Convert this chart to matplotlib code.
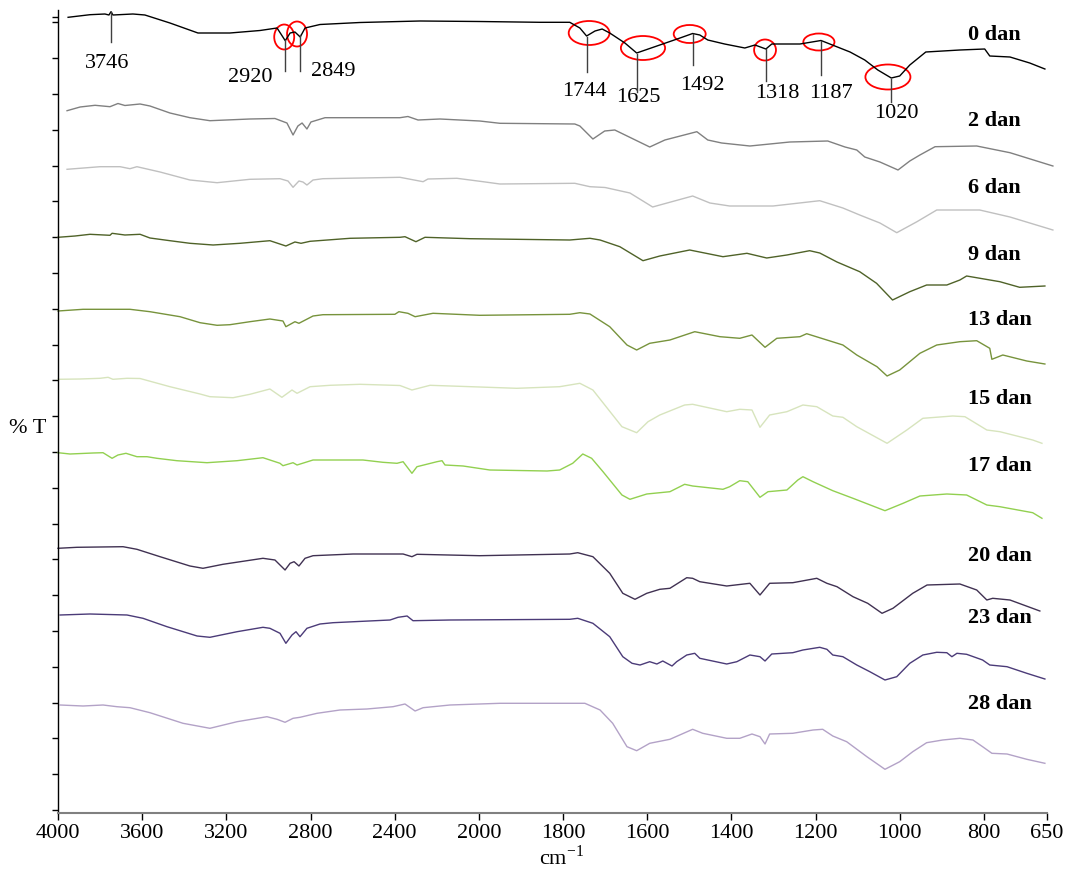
import numpy as np
import matplotlib
matplotlib.use("Agg")
import matplotlib.pyplot as plt
from matplotlib.patches import Ellipse

plt.rcParams['font.family'] = 'serif'
plt.rcParams['font.serif'] = ['Liberation Serif', 'DejaVu Serif']
plt.rcParams['mathtext.fontset'] = 'custom'
plt.rcParams['mathtext.rm'] = 'Liberation Serif'

# sample names and line colours
names = ["0 dan", "2 dan", "6 dan", "9 dan", "13 dan", "15 dan", "17 dan", "20 dan", "23 dan", "28 dan"]
colors = ["#000000", "#808080", "#c0c0c0", "#4f6228", "#77933c", "#d7e4bd", "#92d050", "#403152", "#4b3b78", "#b3a2c7"]

# (wavenumber cm-1, stacked %T)
spectrum_0 = [(3952, 795.7), (3848, 798.3), (3777, 799), (3758, 798), (3748, 801.3), (3739, 798), (3644, 799), (3587, 798),
              (3468, 790), (3335, 780), (3183, 780), (3040, 782.5), (2959, 785), (2920, 772.3), (2897, 780), (2874, 781),
              (2849, 776), (2826, 785), (2755, 788.5), (2565, 790.5), (2280, 792), (2000, 791.5), (1855, 790.7), (1784, 790.7),
              (1760, 785), (1744, 777), (1724, 782), (1707, 784), (1689, 780), (1653, 770), (1625, 760), (1570, 768),
              (1522, 775), (1492, 779.5), (1475, 778), (1456, 773), (1416, 769), (1368, 765), (1344, 768), (1318, 764),
              (1304, 769), (1237, 769), (1187, 772.5), (1154, 767), (1118, 761), (1083, 753), (1052, 743), (1020, 735),
              (1000, 737), (976, 748), (938, 761), (857, 763), (798, 764), (786, 757), (738, 756), (691, 750), (655, 744)]
spectrum_2 = [(3957, 702.3), (3895, 706), (3824, 707.7), (3753, 706.3), (3715, 709.5), (3682, 707.5), (3610, 709), (3563, 707),
              (3468, 700), (3373, 695.3), (3278, 692.3), (3088, 694), (2969, 694.5), (2912, 690), (2883, 678), (2860, 687),
              (2840, 690), (2817, 684), (2798, 691), (2731, 695.3), (2375, 695.3), (2337, 696.5), (2289, 693), (2185, 694),
              (1998, 692), (1950, 689.7), (1772, 689), (1760, 687), (1729, 674), (1701, 682), (1677, 683), (1594, 666),
              (1558, 673), (1482, 681.3), (1456, 673), (1423, 670), (1356, 667), (1261, 671), (1171, 672), (1130, 666),
              (1102, 663), (1083, 656), (1047, 651), (1004, 643), (976, 652), (952, 658), (916, 666.3), (817, 667),
              (738, 660.3), (636, 647)]
spectrum_6 = [(3957, 643.7), (3800, 646.3), (3705, 646.3), (3658, 644.3), (3625, 646.3), (3515, 641), (3373, 633), (3244, 630.3),
              (3088, 633.7), (2945, 634.3), (2907, 632), (2883, 625.7), (2855, 632), (2836, 631), (2817, 628), (2788, 633),
              (2741, 634.3), (2375, 635.7), (2265, 631.3), (2242, 634), (2104, 634.7), (1990, 631.3), (1950, 629), (1772, 629.7),
              (1736, 626.3), (1700, 625.5), (1641, 620), (1587, 606), (1570, 608), (1492, 617), (1451, 610), (1404, 607),
              (1301, 607), (1190, 612.3), (1135, 605), (1095, 598), (1047, 590), (1007, 580.3), (959, 591.3), (912, 603),
              (810, 603), (738, 596), (636, 583)]
spectrum_9 = [(4000, 575.7), (3919, 577), (3848, 578.7), (3753, 577.7), (3743, 579.7), (3682, 578), (3610, 578.7), (3563, 575),
              (3468, 572.3), (3373, 569.7), (3263, 568), (3135, 569.7), (2993, 572.3), (2917, 567), (2874, 571), (2845, 569.7),
              (2802, 571.7), (2612, 574.7), (2375, 575.7), (2351, 576.3), (2299, 571.3), (2256, 575.7), (2042, 574.3), (1784, 573),
              (1736, 574.7), (1712, 573), (1665, 566.3), (1610, 552.3), (1570, 557), (1499, 563), (1420, 556.3), (1363, 559.7),
              (1316, 555), (1268, 558), (1214, 562.3), (1190, 560), (1149, 551), (1095, 541.3), (1055, 529.7), (1017, 513),
              (976, 521.3), (936, 528), (888, 528), (857, 533), (841, 537), (762, 531.3), (715, 525.7), (655, 527)]
spectrum_13 = [(4000, 502), (3881, 503.7), (3658, 503.7), (3563, 501.3), (3420, 496.3), (3325, 490.3), (3244, 487.7), (3183, 488.3),
               (3088, 491.3), (2993, 494), (2931, 492), (2917, 486.3), (2874, 491.3), (2855, 489.7), (2788, 497), (2741, 498.3),
               (2399, 498.7), (2380, 501.3), (2337, 499.7), (2303, 496.3), (2218, 499.7), (1998, 497.7), (1784, 498.7), (1760, 500.3),
               (1736, 499), (1689, 486.3), (1648, 468), (1625, 463), (1594, 469.7), (1546, 473), (1487, 481.3), (1427, 476.3),
               (1380, 474.7), (1351, 478), (1320, 465.7), (1292, 474.7), (1237, 476.3), (1221, 479.3), (1173, 473), (1135, 468),
               (1102, 458), (1054, 446.3), (1030, 437), (1000, 443), (952, 459.7), (912, 468), (857, 471.3), (817, 472.3),
               (786, 464.7), (781, 453.7), (755, 458), (698, 452), (655, 449)]
spectrum_15 = [(4000, 433.7), (3895, 434), (3800, 434.7), (3762, 435.7), (3739, 433.7), (3672, 434.7), (3610, 434.5), (3468, 426.3),
               (3325, 419), (3278, 416.3), (3168, 415.3), (3088, 418.7), (2993, 424), (2936, 415.7), (2888, 423), (2864, 419.7),
               (2802, 426.3), (2707, 427.7), (2565, 428.7), (2375, 427.5), (2318, 423), (2232, 427.7), (1998, 426), (1910, 424.7),
               (1808, 426.3), (1760, 429.7), (1729, 423), (1660, 386.3), (1625, 380.3), (1598, 391.3), (1570, 398), (1511, 408),
               (1492, 408.7), (1411, 401.3), (1380, 403.7), (1351, 403), (1332, 385.7), (1309, 398), (1268, 401.3), (1230, 408),
               (1197, 406.3), (1159, 397), (1135, 395.7), (1102, 386.3), (1030, 369.7), (983, 383), (945, 394.7), (874, 397),
               (845, 396.3), (793, 383), (762, 381.3), (684, 373), (662, 369.7)]
spectrum_17 = [(4000, 360.3), (3943, 359), (3834, 360), (3786, 360.3), (3743, 354.7), (3715, 358), (3677, 359.7), (3625, 356.3),
               (3577, 356.3), (3530, 354.7), (3435, 352.3), (3292, 350.3), (3149, 352.3), (3026, 355.3), (2945, 349.7), (2931, 347.3),
               (2883, 350.3), (2864, 348), (2788, 353), (2551, 353), (2456, 350.7), (2389, 349.7), (2360, 351.3), (2318, 339.7),
               (2294, 346.3), (2199, 351.3), (2175, 352.3), (2161, 348), (2075, 347), (1974, 343), (1838, 342), (1808, 343),
               (1777, 349.7), (1753, 359), (1732, 354.7), (1705, 341.3), (1660, 318), (1641, 313.7), (1601, 319), (1546, 321.3),
               (1511, 328.7), (1492, 327), (1420, 323.7), (1404, 326.3), (1380, 332.3), (1361, 331.3), (1332, 315.7), (1313, 321.3),
               (1268, 323), (1242, 333), (1230, 336.3), (1206, 331.3), (1159, 322.3), (1111, 314.7), (1035, 302.3), (992, 309.7),
               (952, 317), (888, 319), (841, 318), (793, 308), (762, 306.3), (684, 300.3), (662, 294.7)]
spectrum_20 = [(4000, 264.7), (3910, 265.7), (3691, 266.3), (3625, 263.7), (3515, 256.3), (3373, 247), (3311, 244.7), (3216, 248.7),
               (3026, 254.7), (2969, 253), (2921, 243), (2897, 249.7), (2878, 251.3), (2855, 247), (2826, 254.7), (2788, 257.3),
               (2598, 259), (2360, 259), (2318, 256.3), (2294, 258.7), (1998, 257.3), (1784, 259), (1765, 260.3), (1729, 256.3),
               (1689, 239.7), (1658, 219.7), (1629, 213.7), (1601, 219.7), (1570, 223.7), (1546, 224.7), (1506, 235.3), (1492, 234.7),
               (1475, 231.3), (1411, 227), (1356, 229.7), (1332, 218), (1309, 229.7), (1254, 230.3), (1197, 234.7), (1173, 229.7),
               (1149, 226.3), (1111, 216.3), (1076, 209.7), (1042, 199.7), (1016, 204.7), (969, 219.7), (935, 228), (857, 229),
               (817, 223), (793, 213), (779, 214.7), (738, 213), (667, 202)]
spectrum_23 = [(3990, 198), (3848, 199), (3672, 198), (3596, 194.7), (3482, 186.3), (3339, 177), (3278, 175.7), (3149, 181.3),
               (3026, 185.7), (2993, 184.7), (2945, 179.7), (2917, 169.7), (2888, 178), (2869, 181.3), (2850, 176.3), (2817, 184.7),
               (2755, 189), (2693, 190.3), (2422, 193), (2384, 195.7), (2341, 197), (2313, 192.3), (2137, 193), (1784, 193.7),
               (1765, 194.7), (1729, 189.7), (1689, 176.3), (1658, 156.3), (1636, 149.7), (1617, 148), (1594, 151.3), (1577, 149),
               (1563, 152), (1541, 147), (1530, 151.3), (1506, 158), (1487, 159.7), (1475, 154.7), (1411, 149), (1387, 151.3),
               (1356, 158), (1332, 156.3), (1320, 152), (1304, 159), (1254, 160.3), (1230, 163), (1190, 165.7), (1173, 163.7),
               (1159, 158), (1135, 156.3), (1102, 148), (1071, 141.3), (1035, 133), (1007, 136.3), (976, 149.7), (945, 158),
               (912, 160.7), (888, 160.3), (876, 156.3), (864, 159.7), (841, 158.7), (803, 153), (786, 148), (745, 146.3),
               (698, 139.7), (655, 134)]
spectrum_28 = [(3990, 108), (3881, 107), (3786, 108), (3720, 106.3), (3658, 105.3), (3563, 100.3), (3406, 89.7), (3278, 84.7),
               (3149, 91.3), (3007, 96.3), (2959, 93.7), (2921, 90.7), (2883, 94.7), (2850, 95.7), (2769, 99.7), (2660, 103),
               (2532, 104), (2408, 106.3), (2351, 109), (2303, 102), (2265, 105.3), (2137, 108), (1950, 109.7), (1784, 109.7),
               (1748, 109.7), (1712, 103), (1682, 89.7), (1648, 66.3), (1625, 62.3), (1594, 69.7), (1546, 73.7), (1492, 83.7),
               (1468, 79.7), (1411, 74.7), (1380, 74.7), (1351, 79), (1332, 76.3), (1320, 69), (1309, 79), (1254, 79.7),
               (1206, 83), (1183, 83.7), (1159, 77), (1126, 71.3), (1078, 56.3), (1035, 43.7), (1000, 51.3), (969, 61.3),
               (936, 70.3), (898, 73), (857, 74.7), (826, 73), (803, 66.3), (781, 59.7), (745, 59), (698, 53.7), (655, 49.7)]

spectra = [spectrum_0, spectrum_2, spectrum_6, spectrum_9, spectrum_13,
           spectrum_15, spectrum_17, spectrum_20, spectrum_23, spectrum_28]

peaks = [3746, 2920, 2849, 1744, 1625, 1492, 1318, 1187, 1020]
x_ticks = [4000, 3600, 3200, 2800, 2400, 2000, 1800, 1600, 1400, 1200, 1000, 800, 650]


# axis is compressed 2x above 2000 cm-1, like the instrument printout
def fwd(x):
    x = np.asarray(x, dtype=float)
    return np.where(x > 2000, 2000 + (x - 2000) / 2, x)


def inv(u):
    u = np.asarray(u, dtype=float)
    return np.where(u > 2000, 2000 + (u - 2000) * 2, u)


fig = plt.figure(figsize=(10.72, 8.71), dpi=100)
ax = fig.add_axes([58 / 1072, 58 / 871, 989 / 1072, 803 / 871])
ax.set_xscale('function', functions=(fwd, inv))
ax.set_xlim(4000, 650)
ax.set_ylim(0, 803)

for spec, c in zip(spectra, colors):
    wn = [p[0] for p in spec]
    t = [p[1] for p in spec]
    ax.plot(wn, t, color=c, lw=1.0, clip_on=False)

# sample labels
label_y = [778, 692, 625, 558, 493, 414, 347, 257, 195, 109]
for name, y in zip(names, label_y):
    ax.text(838, y, name, ha='left', va='center', fontsize=16, fontweight='bold')

# peak markers on the 0 dan spectrum: line top, line bottom, label x, label y, ellipse
layout = [
    (801, 771, 3767, 749, None),
    (773, 742, 3088, 736, (2925, 776, 95, 25)),
    (778, 742, 2693, 741, (2864, 779, 95, 25)),
    (776, 741, 1750, 721, (1738, 780, 97, 24)),
    (759, 721, 1622, 716, (1610, 765, 105, 24)),
    (779, 748, 1468, 727, (1499, 779, 76, 18)),
    (764, 732, 1292, 720, (1320, 763, 52, 21)),
    (772, 738, 1164, 720, (1192, 771, 74, 17)),
    (734, 711, 1007, 700, (1028, 736, 107, 25)),
]
for p, (y0, y1, lx, ly, ell) in zip(peaks, layout):
    ax.plot([p, p], [y0, y1], color='#404040', lw=1.0, clip_on=False)
    ax.text(lx, ly, str(p), ha='center', va='center', fontsize=16)
    if ell is not None:
        ax.add_patch(Ellipse((ell[0], ell[1]), ell[2], ell[3], fill=False,
                             edgecolor='red', lw=1.3, clip_on=False))

ax.set_xticks(x_ticks)
ax.set_xticklabels([str(v) for v in x_ticks])
ax.xaxis.set_minor_locator(plt.NullLocator())
ax.set_yticks(list(np.arange(3, 800, 35.8)) + [796])
ax.yaxis.set_minor_locator(plt.NullLocator())
ax.tick_params(axis='x', direction='out', length=5, width=1, labelsize=16, pad=3)
ax.tick_params(axis='y', direction='out', length=4, width=1, labelleft=False)

for s in ['top', 'right']:
    ax.spines[s].set_visible(False)
ax.spines['bottom'].set_color('#808080')
ax.spines['bottom'].set_linewidth(1.5)
ax.spines['left'].set_linewidth(1.0)

ax.set_xlabel(r'cm$^{\mathrm{-1}}$', fontsize=16)
ax.xaxis.set_label_coords(0.509, -0.040)
fig.text(28 / 1072, 1 - 428 / 871, '% T', fontsize=16, ha='center', va='center')

plt.savefig('out.png', dpi=100)
